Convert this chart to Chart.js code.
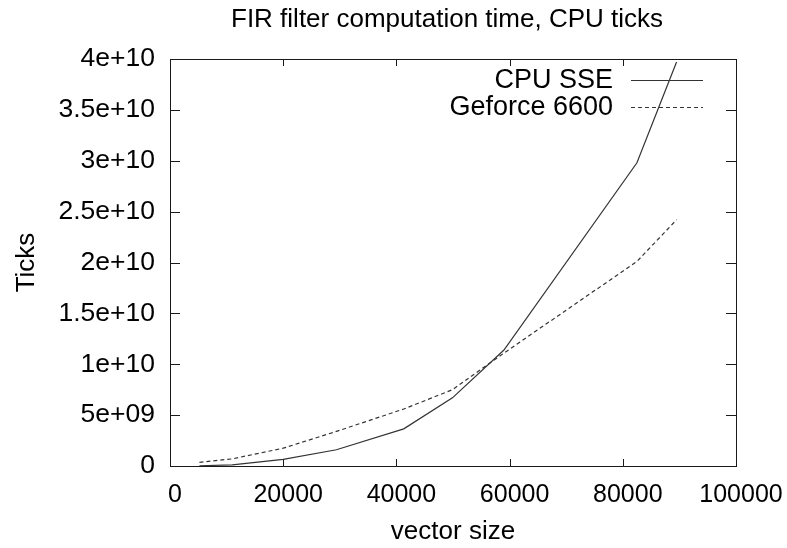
<!DOCTYPE html>
<html>
<head>
<meta charset="utf-8">
<script src="https://cdn.jsdelivr.net/npm/chart.js@4.4.0/dist/chart.umd.min.js"></script>
<style>
  html, body { margin: 0; padding: 0; background: #fff; overflow: hidden; }
</style>
</head>
<body>
<canvas id="myChart" width="787" height="548"></canvas>
<script>
// vector sizes (x) and ticks for both runs
let vectorSize = [5200, 11000, 20000, 29400, 41300, 49900, 59000, 82500, 89500];
let cpuSse = [0.02e9, 0.12e9, 0.65e9, 1.6e9, 3.65e9, 6.7e9, 11.4e9, 29.8e9, 39.7e9];
let geforce = [0.36e9, 0.7e9, 1.75e9, 3.4e9, 5.6e9, 7.5e9, 11.1e9, 20.1e9, 24.2e9];
let seriesNames = ['CPU SSE', 'Geforce 6600'];
let xTicks = [0, 20000, 40000, 60000, 80000, 100000];
let yTicks = [0, 5e9, 1e10, 1.5e10, 2e10, 2.5e10, 3e10, 3.5e10, 4e10];
let chartTitle = 'FIR filter computation time, CPU ticks';

const FONT = 'Liberation Sans, Arial, Helvetica, sans-serif';

function gnuLabel(v) {
    if (v === 0) return '0';
    let parts = Number(v).toExponential().split('e');
    let exp = parts[1];
    let digits = exp.slice(1);
    if (digits.length < 2) digits = '0' + digits;
    return parts[0] + 'e' + exp[0] + digits;
}

function points(ys) {
    let out = [];
    for (let i = 0; i < vectorSize.length; i++) {
        out.push({x: vectorSize[i], y: ys[i]});
    }
    return out;
}

// frame with inward ticks on all four sides, key and title, gnuplot style
const framePlugin = {
    id: 'frame',
    afterDraw(chart) {
        const ctx = chart.ctx;
        const a = chart.chartArea;
        const xs = chart.scales.x;
        const ys = chart.scales.y;
        ctx.save();
        ctx.strokeStyle = '#1a1a1a';
        ctx.lineWidth = 1;
        ctx.strokeRect(Math.round(a.left) + 0.5, Math.round(a.top) + 0.5,
            Math.round(a.right - a.left), Math.round(a.bottom - a.top));
        ctx.beginPath();
        xTicks.forEach(function (t) {
            let px = Math.round(xs.getPixelForValue(t)) + 0.5;
            ctx.moveTo(px, a.bottom); ctx.lineTo(px, a.bottom - 7);
            ctx.moveTo(px, a.top); ctx.lineTo(px, a.top + 7);
        });
        yTicks.forEach(function (t) {
            let py = Math.round(ys.getPixelForValue(t)) + 0.5;
            ctx.moveTo(a.left, py); ctx.lineTo(a.left + 10, py);
            ctx.moveTo(a.right, py); ctx.lineTo(a.right - 10, py);
        });
        ctx.stroke();

        ctx.fillStyle = '#000';
        ctx.font = '26px ' + FONT;
        ctx.textAlign = 'center';
        ctx.textBaseline = 'alphabetic';
        ctx.fillText(chartTitle, (a.left + a.right) / 2 - 6, 27);

        // key: text on the left, sample line on the right
        ctx.font = '27px ' + FONT;
        ctx.textAlign = 'right';
        ctx.textBaseline = 'middle';
        const keyRows = [80, 107];
        chart.data.datasets.forEach(function (ds, i) {
            let y = keyRows[i];
            ctx.fillText(seriesNames[i], 613, y + 1);
            ctx.strokeStyle = ds.borderColor;
            ctx.lineWidth = 1;
            ctx.setLineDash(ds.borderDash || []);
            ctx.beginPath();
            ctx.moveTo(631, y + 0.5);
            ctx.lineTo(703, y + 0.5);
            ctx.stroke();
        });
        ctx.restore();
    }
};

let ctx = document.getElementById('myChart').getContext('2d');
let myChart = new Chart(ctx, {
    type: 'line',
    data: {
        datasets: [{
            label: seriesNames[0],
            data: points(cpuSse),
            borderColor: '#333',
            borderWidth: 1.2,
            pointRadius: 0,
            tension: 0
        }, {
            label: seriesNames[1],
            data: points(geforce),
            borderColor: '#333',
            borderWidth: 1.2,
            borderDash: [4, 3],
            pointRadius: 0,
            tension: 0
        }]
    },
    options: {
        responsive: false,
        animation: false,
        devicePixelRatio: 1,
        layout: { padding: { left: 0, right: 51, top: 59, bottom: 0 } },
        plugins: {
            legend: { display: false },
            tooltip: { enabled: false },
            title: { display: false }
        },
        scales: {
            x: {
                type: 'linear',
                min: 0,
                max: 100000,
                grid: { display: false, drawTicks: false },
                border: { display: false },
                afterBuildTicks: function (scale) {
                    scale.ticks = xTicks.map(function (v) { return {value: v}; });
                },
                afterFit: function (scale) {
                    scale.height = 82;
                    scale.paddingLeft = 0;
                    scale.paddingRight = 0;
                },
                ticks: {
                    color: '#000',
                    padding: 14,
                    labelOffset: 5,
                    maxRotation: 0,
                    autoSkip: false,
                    font: { family: FONT, size: 25 },
                    callback: function (v) { return String(v); }
                },
                title: {
                    display: true,
                    text: 'vector size',
                    color: '#000',
                    font: { family: FONT, size: 26, lineHeight: 1.2 },
                    padding: { top: 0, bottom: 1 }
                }
            },
            y: {
                min: 0,
                max: 4e10,
                grid: { display: false, drawTicks: false },
                border: { display: false },
                afterBuildTicks: function (scale) {
                    scale.ticks = yTicks.map(function (v) { return {value: v}; });
                },
                afterFit: function (scale) {
                    scale.width = 170;
                },
                ticks: {
                    color: '#000',
                    padding: 15,
                    autoSkip: false,
                    font: { family: FONT, size: 26.5 },
                    callback: function (v) { return gnuLabel(v); }
                },
                title: {
                    display: true,
                    text: 'Ticks',
                    color: '#000',
                    font: { family: FONT, size: 26, lineHeight: 1.2 },
                    padding: { top: 11, bottom: 0 }
                }
            }
        }
    },
    plugins: [framePlugin]
});
</script>
</body>
</html>
